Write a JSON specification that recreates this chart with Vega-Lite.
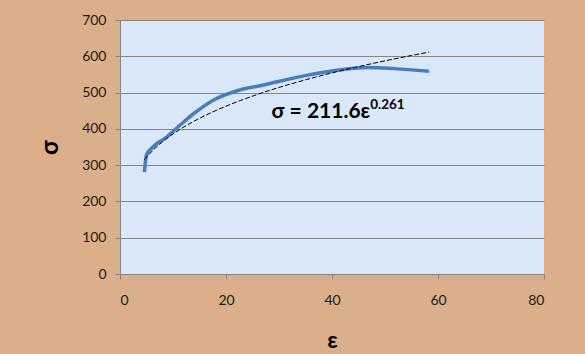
{
  "$schema": "https://vega.github.io/schema/vega-lite/v6.json",
  "autosize": {"type": "none"},
  "width": 424,
  "height": 254,
  "padding": {"left": 120, "top": 20, "right": 41, "bottom": 80},
  "background": "#DAAF89",
  "config": {
    "view": {"fill": "#DAE7F9", "stroke": null},
    "font": "Lato"
  },
  "datasets": {
    "curve": [
      {"e": 4.6, "s": 281}, {"e": 5.0, "s": 328}, {"e": 6.0, "s": 347}, {"e": 7.0, "s": 360},
      {"e": 8.2, "s": 371}, {"e": 11.3, "s": 410}, {"e": 14.0, "s": 443}, {"e": 17.6, "s": 479},
      {"e": 22.1, "s": 505}, {"e": 27.1, "s": 521}, {"e": 34.7, "s": 546}, {"e": 40.3, "s": 560},
      {"e": 46.7, "s": 569}, {"e": 51.7, "s": 566}, {"e": 58.3, "s": 559}
    ],
    "trend": [
      {"e": 4.6, "s": 315.1}, {"e": 6, "s": 337.8}, {"e": 8, "s": 364.1}, {"e": 10, "s": 385.9},
      {"e": 15, "s": 429.0}, {"e": 20, "s": 462.5}, {"e": 25, "s": 490.2}, {"e": 30, "s": 514.1},
      {"e": 35, "s": 535.2}, {"e": 40, "s": 554.2}, {"e": 45, "s": 571.5}, {"e": 50, "s": 587.4},
      {"e": 55, "s": 602.2}, {"e": 58.3, "s": 611.4}
    ],
    "label": [{"e": 28.6, "s": 430.7, "t": "σ = 211.6ε"}],
    "sup": [{"e": 47.2, "s": 456, "t": "0.261"}]
  },
  "encoding": {
    "x": {
      "field": "e", "type": "quantitative",
      "scale": {"domain": [0, 80], "nice": false},
      "axis": {
        "title": "ε", "values": [0, 20, 40, 60, 80], "grid": false,
        "domainColor": "#868686", "tickColor": "#868686", "tickSize": 5,
        "labelFont": "Lato", "labelFontSize": 14, "labelColor": "#1a1a1a", "labelPadding": 14,
        "titleFont": "Lato", "titleFontSize": 23, "titleFontWeight": "bold", "titleColor": "#000",
        "titlePadding": 22
      }
    },
    "y": {
      "field": "s", "type": "quantitative",
      "scale": {"domain": [0, 700], "nice": false},
      "axis": {
        "title": "σ", "values": [0, 100, 200, 300, 400, 500, 600, 700], "grid": true,
        "gridColor": "#868686", "gridWidth": 1.2,
        "domainColor": "#868686", "tickColor": "#868686", "tickSize": 5,
        "labelFont": "Lato", "labelFontSize": 14, "labelColor": "#1a1a1a", "labelPadding": 9,
        "titleFont": "Lato", "titleFontSize": 24, "titleFontWeight": "bold", "titleColor": "#000",
        "titlePadding": 19
      }
    }
  },
  "layer": [
    {
      "data": {"name": "curve"},
      "mark": {"type": "line", "color": "#4A7EBB", "strokeWidth": 3.5, "interpolate": "monotone"}
    },
    {
      "data": {"name": "trend"},
      "mark": {"type": "line", "color": "#000000", "strokeWidth": 1, "strokeDash": [5, 2], "interpolate": "monotone"}
    },
    {
      "data": {"name": "label"},
      "mark": {"type": "text", "align": "left", "baseline": "alphabetic", "font": "Lato", "fontSize": 21, "fontWeight": "bold", "color": "#000"},
      "encoding": {"text": {"field": "t"}}
    },
    {
      "data": {"name": "sup"},
      "mark": {"type": "text", "align": "left", "baseline": "alphabetic", "font": "Lato", "fontSize": 13.5, "fontWeight": "bold", "color": "#000"},
      "encoding": {"text": {"field": "t"}}
    }
  ]
}
